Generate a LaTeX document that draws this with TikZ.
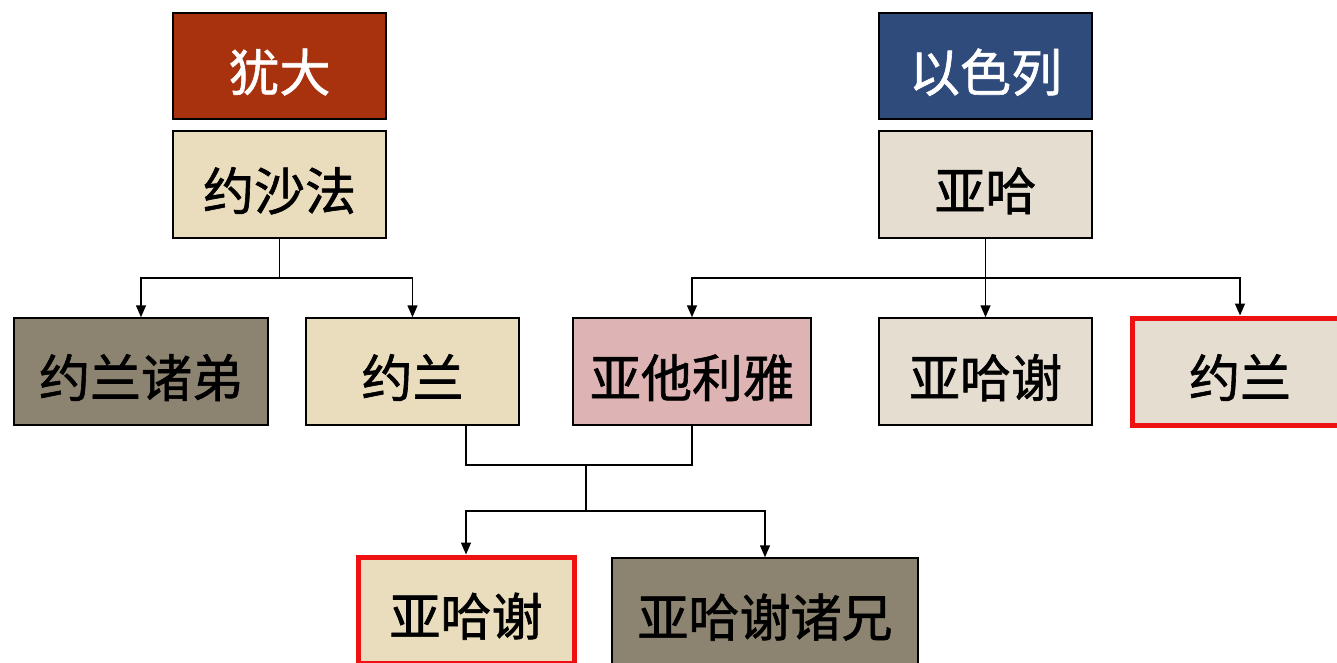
\documentclass[tikz,border=0pt]{standalone}
\usepackage{fontspec}
\setmainfont{Noto Sans CJK SC}[BoldFont={Noto Sans CJK SC},BoldFeatures={FakeBold=1.2}]
\usetikzlibrary{arrows.meta}
\definecolor{judah}{HTML}{A8320E}
\definecolor{israel}{HTML}{2F4B7C}
\definecolor{beige}{HTML}{EADDBD}
\definecolor{stone}{HTML}{E4DDD0}
\definecolor{mud}{HTML}{8D8371}
\definecolor{rose}{HTML}{DDB3B3}
\definecolor{hilite}{HTML}{EE1111}
\begin{document}
\begin{tikzpicture}[x=1pt,y=-1pt,
  box/.style={draw=black,line width=1.5pt,minimum height=106pt,inner sep=0pt,
    font=\fontsize{51}{55}\selectfont\bfseries,text=black,text height=57pt,text depth=6pt},
  redbox/.style={box,draw=hilite,line width=5pt},
  link/.style={line width=1.5pt,draw=black},
  arr/.style={link,-{Triangle[width=10pt,length=12pt]}}]
\useasboundingbox (0,0) rectangle (1337,663);
% top row
\node[box,fill=judah,text=white,minimum width=213pt] (yd) at (279.5,66) {犹大};
\node[box,fill=israel,text=white,minimum width=213pt] (ysl) at (985.5,66) {以色列};
\node[box,fill=beige,minimum width=213pt,minimum height=107pt] (ysf) at (279.5,184.5) {约沙法};
\node[box,fill=stone,minimum width=213pt,minimum height=107pt] (yh) at (985.5,184.5) {亚哈};
% second row
\node[box,fill=mud,minimum width=254pt,minimum height=107pt] (yldi) at (141,371.5) {约兰诸弟};
\node[box,fill=beige,minimum width=213pt,minimum height=107pt] (yl) at (412.5,371.5) {约兰};
\node[box,fill=rose,minimum width=238pt,minimum height=107pt] (ytly) at (692,371.5) {亚他利雅};
\node[box,fill=stone,minimum width=213pt,minimum height=107pt] (yhx) at (985.5,371.5) {亚哈谢};
\node[redbox,fill=stone,minimum width=216pt,minimum height=107pt] (yl2) at (1240,371.5) {约兰};
% third row
\node[redbox,fill=beige,minimum width=216pt,minimum height=106pt] (yhx2) at (466,610) {亚哈谢};
\node[box,fill=mud,minimum width=306pt,minimum height=106pt] (yhxx) at (765,611) {亚哈谢诸兄};
% connectors
\coordinate (j1) at (279.5,278);
\draw[link] (ysf.south) -- (j1);
\draw[arr] (j1) -| (yldi.north);
\draw[arr] (j1) -| (yl.north);
\coordinate (j2) at (985.5,278);
\draw[arr] (yh.south) -- (yhx.north);
\draw[arr] (j2) -| (ytly.north);
\draw[arr] (j2) -| (yl2.north);
\coordinate (m1) at (466,465);
\coordinate (m2) at (692,465);
\coordinate (m3) at (586,465);
\coordinate (m4) at (586,511);
\draw[link] (yl.south -| m1) -- (m1) -- (m2) -- (ytly.south);
\draw[link] (m3) -- (m4);
\draw[arr] (m4) -| (yhx2.north);
\draw[arr] (m4) -| (yhxx.north);
\end{tikzpicture}
\end{document}
